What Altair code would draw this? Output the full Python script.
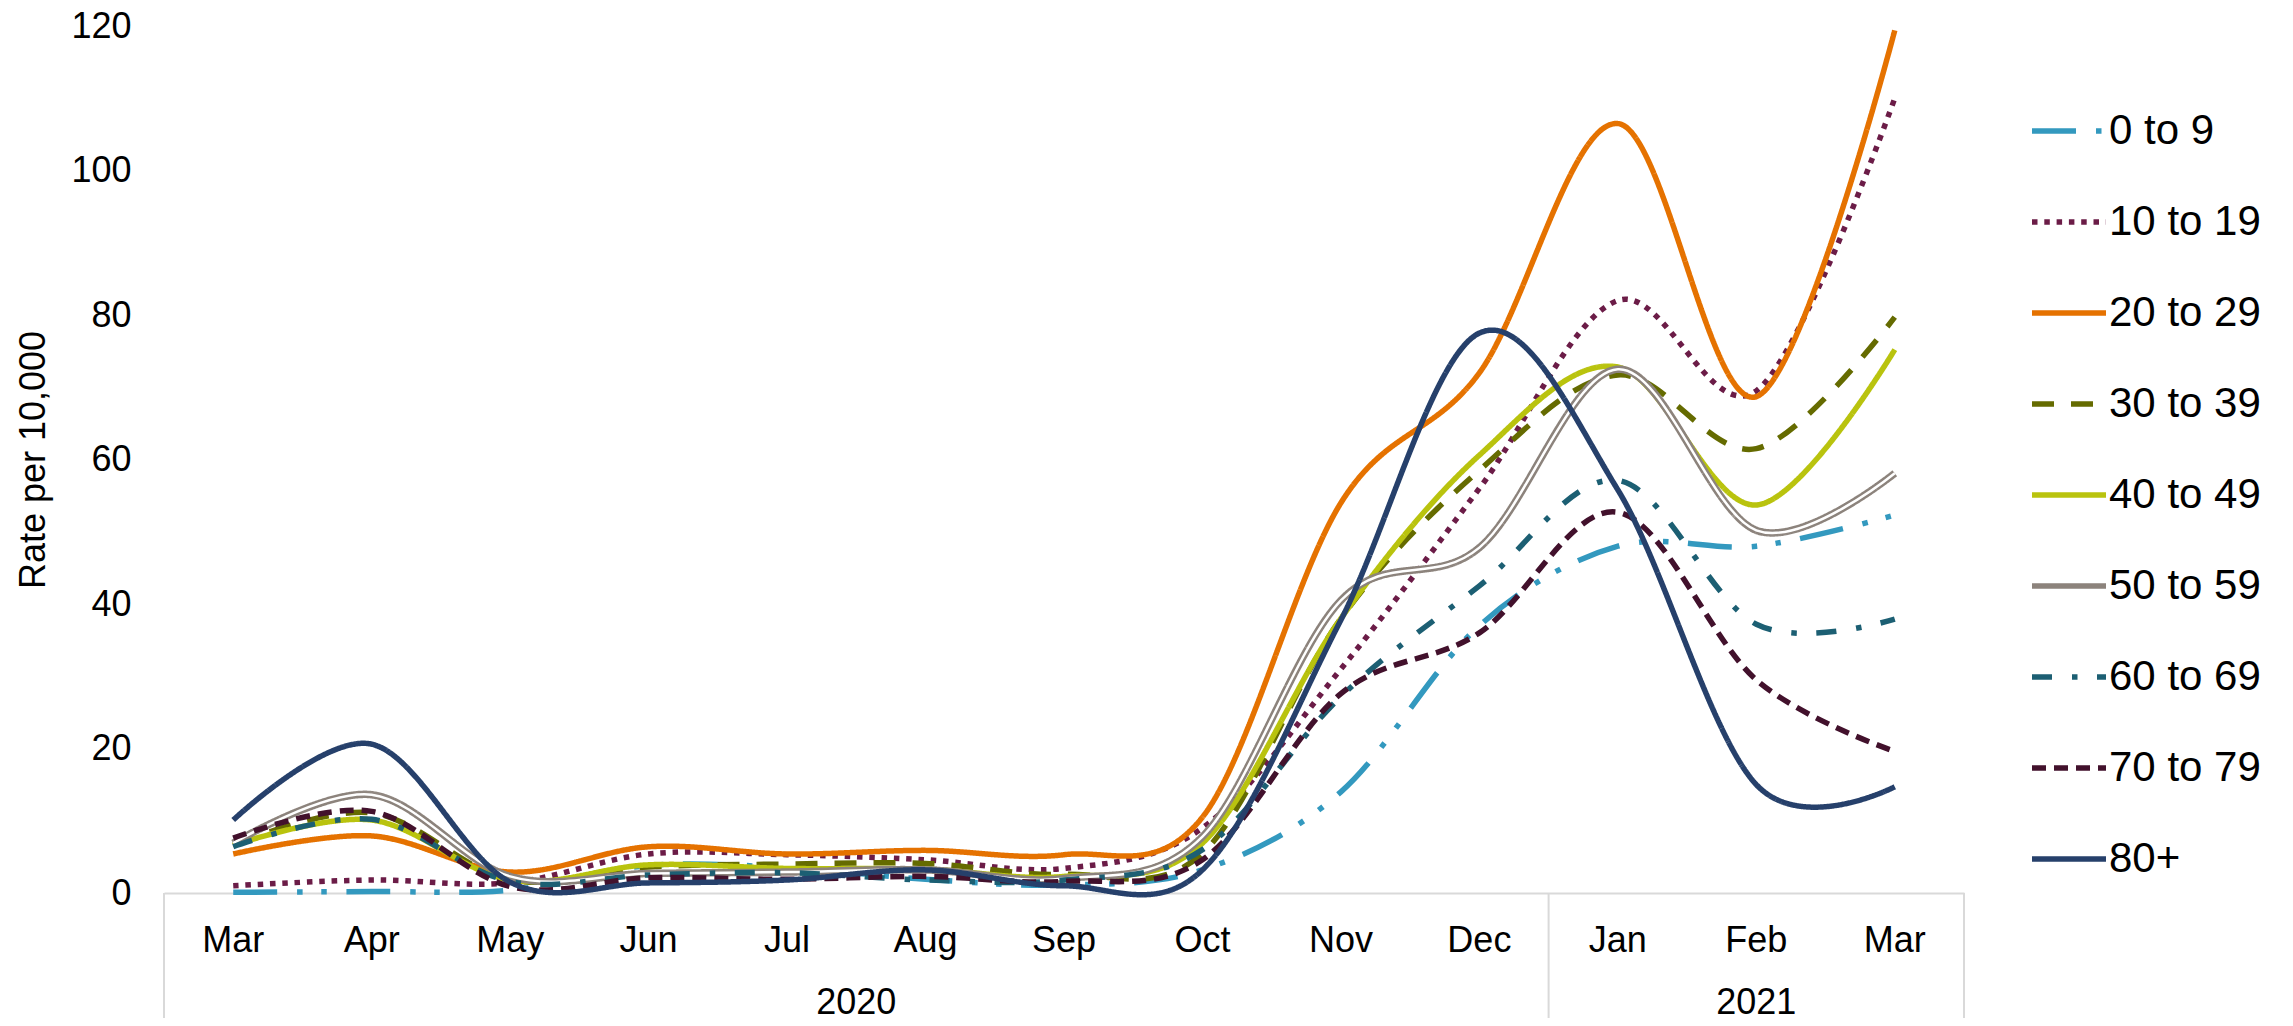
import altair as alt
import pandas as pd

# ---------------- data ----------------
months = ["Mar", "Apr", "May", "Jun", "Jul", "Aug", "Sep", "Oct", "Nov", "Dec", "Jan", "Feb", "Mar"]
years = ["2020"] * 10 + ["2021"] * 3

series = ["0 to 9", "10 to 19", "20 to 29", "30 to 39", "40 to 49",
          "50 to 59", "60 to 69", "70 to 79", "80+"]

rate_0_9 = [0.1, 0.2, 0.4, 3.8, 3.5, 1.9, 1.1, 3.2, 14.0, 37.0, 48.0, 48.0, 52.3]
rate_10_19 = [1.0, 1.8, 1.4, 5.4, 5.3, 4.6, 3.4, 9.0, 31.0, 56.0, 82.0, 69.5, 110.0]
rate_20_29 = [5.4, 7.9, 2.9, 6.4, 5.4, 5.9, 5.3, 10.5, 54.0, 72.0, 106.5, 68.7, 119.4]
rate_30_39 = [6.6, 11.1, 1.8, 3.6, 4.0, 4.1, 2.6, 5.5, 38.0, 58.5, 71.7, 61.5, 79.7]
rate_40_49 = [6.6, 10.1, 1.8, 3.9, 3.4, 3.3, 2.3, 6.9, 38.0, 60.6, 72.8, 53.7, 75.2]
rate_50_59 = [6.9, 13.6, 2.3, 2.7, 2.9, 3.2, 2.0, 7.8, 40.5, 47.8, 72.5, 50.2, 58.1]
rate_60_69 = [6.4, 10.2, 1.6, 2.5, 2.8, 1.8, 1.8, 6.0, 27.2, 42.5, 57.1, 37.2, 37.9]
rate_70_79 = [7.6, 11.3, 0.9, 2.1, 1.9, 2.3, 1.6, 4.6, 27.6, 36.0, 52.7, 29.5, 19.6]
rate_80p = [10.1, 20.6, 1.5, 1.4, 1.8, 3.2, 1.0, 3.2, 37.8, 77.5, 55.8, 15.0, 14.7]

all_rates = [rate_0_9, rate_10_19, rate_20_29, rate_30_39, rate_40_49,
             rate_50_59, rate_60_69, rate_70_79, rate_80p]

y_ticks = [0, 20, 40, 60, 80, 100, 120]

# ---------------- styles ----------------
colors = ["#3399BF", "#6B1C47", "#E57200", "#656B00", "#B9C30E",
          "#8C837C", "#1C5F73", "#42112C", "#26406B"]
dashes = [[44, 20, 5.5, 18.5, 5.5, 19.5],  # long dash dot dot
          [5.5, 6.8],                       # round dot
          [1, 0],                           # solid
          [22, 17],                         # dash
          [1, 0],
          [1, 0],
          [20, 20, 5.5, 19.5],              # long dash dot
          [14, 8],                          # short dash
          [1, 0]]

FONT = "Liberation Sans"
W, H = 1800, 867

keys = [f"{m} {y}" for m, y in zip(months, years)]
rows = []
for s, vals in zip(series, all_rates):
    for k, v in zip(keys, vals):
        rows.append({"series": s, "key": k, "rate": v})
df = pd.DataFrame(rows)

x_scale = alt.Scale(type="band", domain=keys, paddingInner=0, paddingOuter=0)
y_scale = alt.Scale(domain=[0, 120], nice=False, zero=True)

x_axis = alt.Axis(title=None, labelExpr="split(datum.label, ' ')[0]", labelAngle=0,
                  ticks=False, domainColor="#d9d9d9", domainWidth=2,
                  labelFontSize=36, labelPadding=30, labelColor="black", labelFont=FONT,
                  grid=False)
y_axis = alt.Axis(title="Rate per 10,000", values=y_ticks, domain=False, ticks=False,
                  grid=False, labelFontSize=36, labelPadding=33, labelColor="black",
                  labelFont=FONT, titleFont=FONT, titleFontSize=36, titleFontWeight="normal",
                  titleColor="black", titlePadding=18)

legend = alt.Legend(title=None, orient="none", legendX=1865, legendY=65,
                    symbolSize=5476, symbolStrokeWidth=5.5, symbolType="stroke",
                    labelFontSize=42, labelFont=FONT, labelColor="black",
                    labelOffset=0, rowPadding=30, labelLimit=400, padding=0)

color_enc = alt.Color("series:N", scale=alt.Scale(domain=series, range=colors), legend=legend)
dash_enc = alt.StrokeDash("series:N", scale=alt.Scale(domain=series, range=dashes), legend=legend)

layers = []
for s in series:
    base = alt.Chart(df).transform_filter(alt.datum.series == s)
    enc = dict(
        x=alt.X("key:N", scale=x_scale, axis=x_axis, sort=keys, bandPosition=0.5),
        y=alt.Y("rate:Q", scale=y_scale, axis=y_axis),
    )
    if s == "50 to 59":
        layers.append(base.mark_line(interpolate="cardinal", strokeWidth=7.5, strokeJoin="round")
                      .encode(color=color_enc, strokeDash=dash_enc, **enc))
        layers.append(base.mark_line(interpolate="cardinal", strokeWidth=2.5, strokeJoin="round")
                      .encode(color=alt.value("white"), **enc))
    else:
        layers.append(base.mark_line(interpolate="cardinal", strokeWidth=5.5, strokeJoin="round")
                      .encode(color=color_enc, strokeDash=dash_enc, **enc))

# category-axis separators (year groups)
sep_start = pd.DataFrame({"key": [keys[0], keys[10]]})
sep_end = pd.DataFrame({"key": [keys[-1]]})
for d, bp in [(sep_start, 0), (sep_end, 1)]:
    layers.append(alt.Chart(d).mark_rule(color="#d9d9d9", strokeWidth=2).encode(
        x=alt.X("key:N", scale=x_scale, sort=keys, bandPosition=bp, axis=x_axis),
        y=alt.datum(0, scale=y_scale),
        y2=alt.value(H + 130)))

# year labels
yr1 = pd.DataFrame({"key": [keys[4]], "year": ["2020"]})
yr2 = pd.DataFrame({"key": [keys[11]], "year": ["2021"]})
for d, bp in [(yr1, 1), (yr2, 0.5)]:
    layers.append(alt.Chart(d).mark_text(font=FONT, fontSize=36, color="black",
                                         baseline="middle", align="center").encode(
        x=alt.X("key:N", scale=x_scale, sort=keys, bandPosition=bp, axis=x_axis),
        y=alt.value(H + 110),
        text="year:N"))

chart = alt.layer(*layers).properties(
    width=W, height=H,
    background="white",
    autosize=alt.AutoSizeParams(type="none"),
    padding={"left": 156, "top": 18, "right": 320, "bottom": 125},
).configure_view(stroke=None)

chart.save("out.html", embed_options={"renderer": "svg", "actions": False})
